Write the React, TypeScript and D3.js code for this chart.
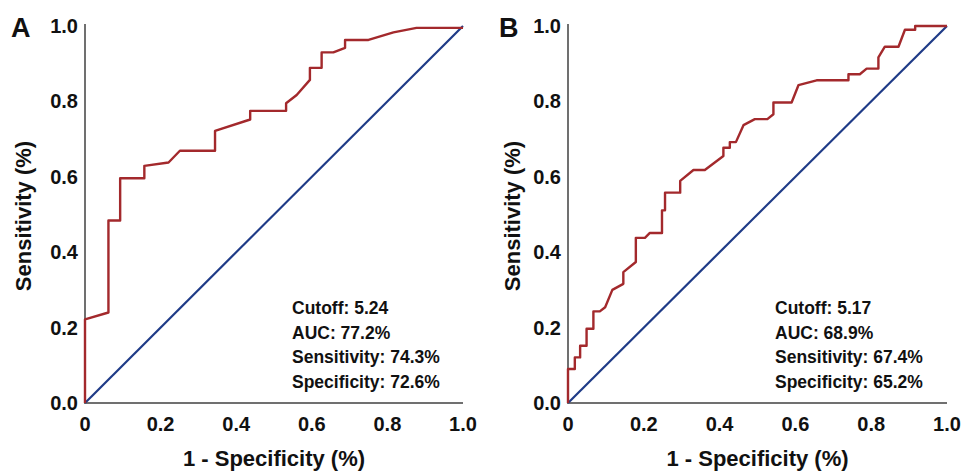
import React from "react";
import * as d3 from "d3";

// Panel A ROC curve points (FPR, TPR)
const fprA = [0, 0, 0.062, 0.062, 0.093, 0.093, 0.157, 0.157, 0.221, 0.251, 0.344, 0.344, 0.437, 0.437, 0.532, 0.532, 0.560, 0.595, 0.595, 0.626, 0.626, 0.657, 0.688, 0.688, 0.750, 0.816, 0.877, 1.0];
const tprA = [0, 0.222, 0.240, 0.484, 0.484, 0.596, 0.596, 0.629, 0.638, 0.669, 0.669, 0.722, 0.752, 0.775, 0.775, 0.795, 0.817, 0.857, 0.889, 0.889, 0.930, 0.930, 0.942, 0.963, 0.963, 0.983, 0.995, 0.995];

// Panel B ROC curve points (FPR, TPR)
const fprB = [0, 0, 0.018, 0.018, 0.032, 0.032, 0.049, 0.049, 0.067, 0.067, 0.084, 0.098, 0.117, 0.146, 0.146, 0.179, 0.179, 0.203, 0.216, 0.248, 0.248, 0.256, 0.256, 0.296, 0.296, 0.331, 0.361, 0.410, 0.410, 0.427, 0.427, 0.443, 0.463, 0.493, 0.526, 0.542, 0.542, 0.590, 0.608, 0.656, 0.740, 0.740, 0.770, 0.788, 0.819, 0.819, 0.836, 0.872, 0.889, 0.916, 0.916, 1.0];
const tprB = [0, 0.090, 0.090, 0.121, 0.121, 0.152, 0.152, 0.197, 0.197, 0.243, 0.243, 0.254, 0.300, 0.316, 0.347, 0.374, 0.438, 0.438, 0.451, 0.451, 0.511, 0.511, 0.558, 0.558, 0.589, 0.618, 0.618, 0.655, 0.677, 0.677, 0.692, 0.692, 0.737, 0.753, 0.753, 0.766, 0.797, 0.797, 0.843, 0.856, 0.856, 0.872, 0.872, 0.887, 0.887, 0.917, 0.945, 0.945, 0.990, 0.990, 1.0, 1.0];

const xTicks = [0, 0.2, 0.4, 0.6, 0.8, 1.0];
const xTickLabels = ["0", "0.2", "0.4", "0.6", "0.8", "1.0"];
const yTicks = [0, 0.2, 0.4, 0.6, 0.8, 1.0];
const yTickLabels = ["0.0", "0.2", "0.4", "0.6", "0.8", "1.0"];

const panelLabels = ["A", "B"];
const statsA = ["Cutoff: 5.24", "AUC: 77.2%", "Sensitivity: 74.3%", "Specificity: 72.6%"];
const statsB = ["Cutoff: 5.17", "AUC: 68.9%", "Sensitivity: 67.4%", "Specificity: 65.2%"];

const FONT = "'Liberation Sans', Arial, Helvetica, sans-serif";
const RED = "#a3292c";
const BLUE = "#1f3b87";
const AXIS = "#707070";

type PanelProps = {
  x0: number;
  x1: number;
  fpr: number[];
  tpr: number[];
  label: string;
  stats: string[];
  statsX: number;
  labelX: number;
  yTitleX: number;
};

function Panel({ x0, x1, fpr, tpr, label, stats, statsX, labelX, yTitleX }: PanelProps) {
  const x = d3.scaleLinear().domain([0, 1]).range([x0, x1]);
  const y = d3.scaleLinear().domain([0, 1]).range([403, 26]);
  const pts: [number, number][] = fpr.map((f, i) => [f, tpr[i]]);
  const line = d3
    .line<[number, number]>()
    .x((d) => x(d[0]))
    .y((d) => y(d[1]));
  const diag = line([
    [0, 0],
    [1, 1],
  ]);
  const midX = (x0 + x1) / 2;
  return (
    <g>
      <text x={labelX} y={37} fontSize={27} fontWeight="bold" fontFamily={FONT} fill="#111">
        {label}
      </text>
      {/* axes */}
      <line x1={x0} x2={x0} y1={24} y2={y(0) + 1} stroke={AXIS} strokeWidth={2} />
      <line x1={x0 - 1} x2={x1} y1={y(0)} y2={y(0)} stroke={AXIS} strokeWidth={2} />
      {/* y tick labels */}
      {yTicks.map((t, i) => (
        <text
          key={"y" + i}
          x={x0 - 7}
          y={y(t) + 7}
          textAnchor="end"
          fontSize={20}
          fontWeight="bold"
          fontFamily={FONT}
          fill="#111"
        >
          {yTickLabels[i]}
        </text>
      ))}
      {/* x tick labels */}
      {xTicks.map((t, i) => (
        <text
          key={"x" + i}
          x={x(t)}
          y={y(0) + 28}
          textAnchor="middle"
          fontSize={20}
          fontWeight="bold"
          fontFamily={FONT}
          fill="#111"
        >
          {xTickLabels[i]}
        </text>
      ))}
      {/* axis titles */}
      <text
        x={midX}
        y={466}
        textAnchor="middle"
        fontSize={22}
        fontWeight="bold"
        fontFamily={FONT}
        fill="#111"
      >
        1 - Specificity (%)
      </text>
      <text
        transform={`translate(${yTitleX},216) rotate(-90)`}
        textAnchor="middle"
        fontSize={22}
        fontWeight="bold"
        fontFamily={FONT}
        fill="#111"
      >
        Sensitivity (%)
      </text>
      {/* diagonal */}
      <path d={diag || ""} fill="none" stroke={BLUE} strokeWidth={2.2} />
      {/* ROC curve */}
      <path d={line(pts) || ""} fill="none" stroke={RED} strokeWidth={2.4} strokeLinejoin="round" />
      {/* stats */}
      {stats.map((s, i) => (
        <text
          key={"s" + i}
          x={statsX}
          y={314 + i * 24.7}
          fontSize={17.5}
          fontWeight="bold"
          fontFamily={FONT}
          fill="#111"
        >
          {s}
        </text>
      ))}
    </g>
  );
}

export default function App() {
  return (
    <svg width={969} height={472} style={{ position: "absolute", left: 0, top: 0, background: "#fff" }}>
      <rect x={0} y={0} width={969} height={472} fill="#fff" />
      <Panel x0={85} x1={463} fpr={fprA} tpr={tprA} label={panelLabels[0]} stats={statsA} statsX={292} labelX={11} yTitleX={31} />
      <Panel x0={568} x1={947} fpr={fprB} tpr={tprB} label={panelLabels[1]} stats={statsB} statsX={775} labelX={499} yTitleX={520} />
    </svg>
  );
}
